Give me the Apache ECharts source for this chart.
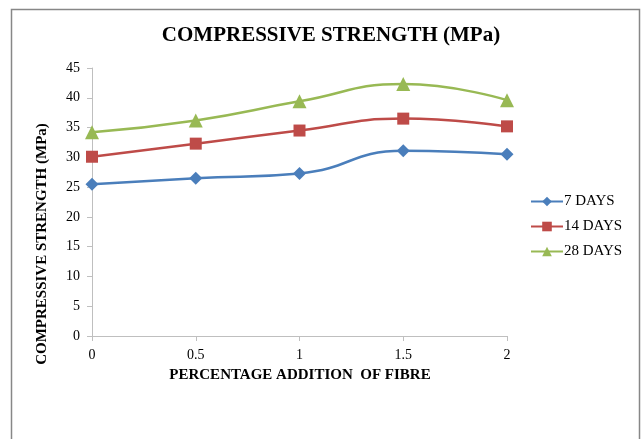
<!DOCTYPE html>
<html>
<head>
<meta charset="utf-8">
<script src="https://cdn.jsdelivr.net/npm/echarts@6/dist/echarts.min.js"></script>
<style>
html,body{margin:0;padding:0;background:#fff;}
#chart{width:642px;height:439px;}
</style>
</head>
<body>
<div id="chart"></div>
<script>
const categories = ['0', '0.5', '1', '1.5', '2'];
const days7 = [25.5, 26.5, 27.3, 31.1, 30.5];
const days14 = [30.1, 32.3, 34.5, 36.5, 35.2];
const days28 = [34.2, 36.2, 39.4, 42.3, 39.6];
const seriesNames = ['7 DAYS', '14 DAYS', '28 DAYS'];
const yTicks = [0, 5, 10, 15, 20, 25, 30, 35, 40, 45];

const serif = '"Liberation Serif", "Times New Roman", serif';
const chart = echarts.init(document.getElementById('chart'));

function lineSeries(name, data, color, symbol, size) {
  return {
    name: name, type: 'line', data: data, smooth: 0.5,
    symbol: symbol, symbolSize: size,
    lineStyle: { color: color, width: 2.5 },
    itemStyle: { color: color },
    z: 3
  };
}

chart.setOption({
  animation: false,
  backgroundColor: '#fff',
  title: {
    text: 'COMPRESSIVE STRENGTH (MPa)',
    left: 326, top: 20, textAlign: 'center',
    textStyle: { fontFamily: serif, fontWeight: 'bold', fontSize: 21, color: '#000' }
  },
  legend: {
    orient: 'vertical', left: 525, top: 189, itemGap: 10,
    itemWidth: 32, itemHeight: 12,
    textStyle: { fontFamily: serif, fontSize: 15, color: '#000', padding: [0,0,0,-4] },
    data: seriesNames
  },
  grid: { left: 92, right: 135, top: 68, bottom: 103 },
  xAxis: {
    type: 'category', data: categories, boundaryGap: false,
    axisLine: { lineStyle: { color: '#bfbfbf', width: 1 } },
    axisTick: { show: true, alignWithLabel: true, length: 5, lineStyle: { color: '#bfbfbf' } },
    axisLabel: { fontFamily: serif, fontSize: 14, color: '#000', margin: 12 },
    splitLine: { show: false }
  },
  yAxis: {
    type: 'value', min: yTicks[0], max: yTicks[yTicks.length - 1], interval: 5,
    axisLine: { show: true, lineStyle: { color: '#bfbfbf', width: 1 } },
    axisTick: { show: true, length: 5, lineStyle: { color: '#bfbfbf' } },
    axisLabel: { fontFamily: serif, fontSize: 14, color: '#000', margin: 12 },
    splitLine: { show: false }
  },
  graphic: [
    { type: 'rect', shape: { x: 11.5, y: 9.5, width: 628, height: 445 },
      style: { fill: 'none', stroke: '#878787', lineWidth: 1.5 }, silent: true, z: -1 },
    { type: 'text', x: 42, y: 244, rotation: Math.PI / 2,
      style: { text: 'COMPRESSIVE STRENGTH (MPa)', font: 'bold 15px ' + serif, fill: '#000',
        textAlign: 'center', textVerticalAlign: 'middle' } },
    { type: 'text', x: 300, y: 375,
      style: { text: 'PERCENTAGE ADDITION  OF FIBRE', font: 'bold 15px ' + serif, fill: '#000',
        textAlign: 'center', textVerticalAlign: 'middle' } }
  ],
  series: [
    lineSeries(seriesNames[0], days7, '#4a7ebb', 'diamond', 13),
    lineSeries(seriesNames[1], days14, '#be4b48', 'rect', 12),
    lineSeries(seriesNames[2], days28, '#98b954', 'triangle', 14)
  ]
});
</script>
</body>
</html>
